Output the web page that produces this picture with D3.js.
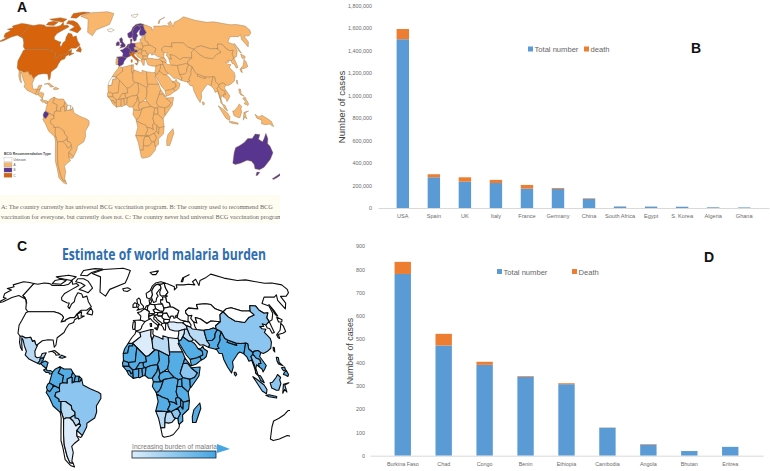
<!doctype html>
<html lang="en">
<head>
<meta charset="UTF-8">
<title>BCG, malaria and COVID-19 cases</title>
<style>
  html, body { margin: 0; padding: 0; background: #fff; }
  svg { display: block; font-family: "Liberation Sans", Arial, sans-serif; }
  .tick text { fill: #6b6b6b; }
  .panel { font-weight: 700; fill: #111; font-size: 14px; }
</style>
</head>
<body>
<svg id="fig" width="770" height="471" viewBox="0 0 770 471"></svg>
<script src="https://cdn.jsdelivr.net/npm/d3@7"></script>
<script>
// chart B
const casesCountries = ["USA", "Spain", "UK", "Italy", "France", "Germany", "China", "South Africa", "Egypt", "S. Korea", "Algeria", "Ghana"];
const casesTotal = [1500000, 273000, 234000, 222000, 172000, 170000, 82000, 13000, 12000, 11000, 6000, 5000];
const casesDeath = [91000, 27000, 39000, 28000, 33000, 8000, 4600, 1000, 1000, 500, 600, 100];
const casesTicks = [0, 200000, 400000, 600000, 800000, 1000000, 1200000, 1400000, 1600000, 1800000];

// chart D
const malariaCountries = ["Burkina Faso", "Chad", "Congo", "Benin", "Ethiopia", "Cambodia", "Angola", "Bhutan", "Eritrea"];
const malariaTotal = [780, 473, 390, 339, 307, 120, 48, 20, 38];
const malariaDeath = [52, 50, 13, 3, 4, 1, 2, 0, 0];
const malariaTicks = [0, 100, 200, 300, 400, 500, 600, 700, 800, 900];

// country outlines, rough lon,lat rings
const shapes = {
  canada: "-141,69.6 -135,69 -128,70 -120,69.5 -115,68 -108,68 -100,68 -95,69 -94,72 -90,69 -85,69.5 -81,68 -87,65 -93,62 -94,59 -92,57 -85,55.3 -82,55 -82,52.5 -79.5,51.2 -79,54.5 -77,56 -78,59 -77.5,62.5 -72,61.5 -69,59 -65,60 -61,56 -56,52.5 -60,50 -66,50 -70,47 -65,49 -64.5,46 -61,46 -66,44 -67,45 -69,47.3 -71,45 -75,45 -79,43.5 -79,42.8 -83,42 -82.5,45 -84.5,46.5 -89,48 -95,49 -123,49 -127,51 -130,54.5 -133,57 -137,59 -141,60.3",
  baffin: "-62,66 -65,62.5 -72,64 -78,65 -73,68 -80,70 -88,71 -88,73.5 -80,73.5 -72,71.5 -67,69",
  victoria: "-105,69 -117,69.5 -117,72 -110,73 -102,72",
  ellesmere: "-62,82.5 -75,83 -90,81 -88,76.5 -78,76 -75,79",
  banks: "-95,72 -105,73 -115,74 -120,75 -105,76.5 -92,75",
  newfoundland: "-59,47.7 -53,46.8 -53,49 -56,51.5",
  alaska: "-141,69.6 -141,60.3 -137,59 -133,57 -130,55 -135,58 -146,60.5 -152,59 -158,56 -165,54.5 -158,58.5 -162,59 -165,62 -161,64.5 -168,65.6 -162,67 -166,68.5 -157,71 -148,70.3",
  usa: "-124.5,48.3 -123,49 -95,49 -89,48 -84.5,46.5 -82.5,45 -83,42 -79,42.8 -79,43.5 -75,45 -71,45 -69,47.3 -67,45 -70,43.5 -70,41.7 -74,40.5 -75.5,37.5 -76,35 -81,31.5 -80,26.5 -81,25.2 -82.8,28 -84,30 -89,30.2 -94,29.5 -97.3,27 -97.2,25.9 -99.5,27.5 -101.5,29.7 -103,29 -106.5,31.8 -111,31.3 -114.8,32.5 -117,32.5 -120.5,34.5 -124,40 -124.3,43",
  mexico: "-117,32.5 -114.8,32.5 -111,31.3 -106.5,31.8 -103,29 -101.5,29.7 -99.5,27.5 -97.2,25.9 -97.8,22.5 -96,19 -94,18.2 -91,18.7 -90.5,21 -87,21.5 -88,18.5 -89,17.9 -91,17.8 -91,16 -92.2,14.5 -96,15.7 -101,17.3 -105.5,20 -105.5,22.5 -109,26 -112.5,30 -114.7,31.5 -112,27 -109.5,23 -112,25 -115,28.5",
  guatemala: "-92.2,14.5 -91,16 -91,17.8 -89,17.9 -88,18.5 -88.2,16 -89,15.9 -88.5,15 -89.4,14.3 -90.2,13.8",
  honduras: "-89.4,14.3 -88.5,15 -86,16 -83.2,15 -83.6,11 -87.5,13",
  panama: "-83.6,11 -82.5,9.5 -79.5,9.6 -77.4,8.7 -77.9,7.3 -80,7.3 -80.5,8.3 -83,8.3 -85.7,10",
  cuba: "-85,22 -80,23 -74.2,20.2 -77.7,19.9 -78.5,21 -82,22.5",
  hispaniola: "-74.4,18.4 -72.5,19.9 -68.4,18.6 -71.5,17.8",
  colombia: "-77.4,8.7 -75.5,10.7 -72,12.2 -71.3,11 -72.5,8 -67.5,6.2 -67.8,2 -67,1.5 -69.5,1 -70,-1 -69.9,-4.3 -70,-2.3 -75.2,-0.1 -78.8,1.4 -77.9,7.3",
  venezuela: "-72,12.2 -68,10.7 -62,10.7 -60,8.5 -60.8,5.2 -64,4 -63.5,1.2 -67,1.5 -67.8,2 -67.5,6.2 -72.5,8 -71.3,11",
  guyana: "-60,8.5 -57.2,6 -57.8,2 -59.5,1.3 -60,5 -60.8,5.2",
  suriname: "-57.2,6 -54,5.8 -54,2.3 -57.8,2",
  fguiana: "-54,5.8 -51.7,4.2 -53,2.2 -54,2.3",
  ecuador: "-78.8,1.4 -75.2,-0.1 -75.5,-1.5 -78.3,-4.5 -80.3,-3.4 -81,-1.5 -80,0.5",
  peru: "-80.3,-3.4 -78.3,-4.5 -75.5,-1.5 -75.2,-0.1 -70,-2.3 -69.9,-4.3 -73,-5 -74,-7.5 -70.6,-9.5 -70.6,-11 -69,-11 -69.5,-16 -69.5,-17.5 -70.4,-18.3 -76,-14 -79,-8 -81.3,-5",
  brazil: "-51.7,4.2 -50,0 -44,-2.5 -37,-4.8 -35,-6 -35,-9 -39,-14 -39,-18 -41,-22 -48,-25.5 -48.6,-28 -53.4,-33.7 -57.6,-30.2 -53.8,-27 -54.6,-25.5 -54.3,-24 -55.5,-22.3 -58,-22 -58,-20 -57.8,-18 -60.2,-16.3 -60.5,-13.8 -65.3,-11 -69,-11 -70.6,-11 -70.6,-9.5 -74,-7.5 -73,-5 -69.9,-4.3 -70,-1 -69.5,1 -67,1.5 -63.5,1.2 -64,4 -60.8,5.2 -60,5 -59.5,1.3 -57.8,2 -54,2.3 -53,2.2",
  bolivia: "-69,-11 -65.3,-11 -60.5,-13.8 -60.2,-16.3 -57.8,-18 -58,-20 -62.5,-22 -66,-22 -68,-22.8 -69.5,-17.5 -69.5,-16",
  paraguay: "-58,-20 -58,-22 -55.5,-22.3 -54.3,-24 -54.6,-25.5 -58,-27.3 -60,-24 -62.5,-22",
  chile: "-70.4,-18.3 -69.5,-17.5 -68,-22.8 -70,-33 -71.5,-40 -72,-48 -71.5,-52 -68.5,-52.5 -68.5,-55 -72,-54 -75,-50 -73.5,-42 -73.5,-37 -71.5,-30 -70,-22",
  argentina: "-68,-22.8 -66,-22 -62.5,-22 -60,-24 -58,-27.3 -54.6,-25.5 -53.8,-27 -57.6,-30.2 -58.3,-34 -57,-36.5 -62,-39 -65,-41 -65,-45 -69,-51 -68.5,-52.5 -71.5,-52 -72,-48 -71.5,-40 -70,-33",
  uruguay: "-57.6,-30.2 -53.4,-33.7 -55,-35 -58.3,-34",
  greenland: "-73,78 -60,82 -30,83.5 -18,81 -20,74 -22,70 -40,65 -43,60 -51,63 -54,69 -58,75",
  iceland: "-24,65.5 -18,66.3 -14,65 -18,63.4 -22.5,64",
  morocco: "-5.9,35.8 -2,35 -1.2,32.2 -8.7,28 -13,27.7 -9.8,31.5 -6.8,34",
  wsahara: "-13,27.7 -8.7,27.7 -8.7,26 -12,26 -13,21.3 -17,21 -16,24",
  algeria: "-2,35 9,37 8.5,33 9.5,30 10,24.5 12,23.5 6,19.5 3.3,19 -4.8,25 -8.7,27.7 -8.7,28 -1.2,32.2",
  tunisia: "9,37 11,37 10.5,34 11.5,33 9.5,30 8.5,33",
  libya: "11.5,33 15.5,32 20,30.5 20,32.8 25,31.7 25,20 24,19.5 15,23 12,23.5 10,24.5 9.5,30",
  egypt: "25,31.7 32,31 34.3,31.2 35,28 33.7,27.7 37,22 25,22",
  mauritania: "-17,21 -13,21.3 -12,26 -8.7,26 -8.7,27.7 -4.8,25 -6,15.5 -12,15 -16.5,16.2",
  mali: "-4.8,25 3.3,19 4,15.5 1,15 -2,14.8 -5.5,10.5 -8,10 -11.5,12.5 -12,15 -6,15.5",
  niger: "3.3,19 6,19.5 12,23.5 15,23 15.5,16.5 13.5,13.5 8,13 3.6,11.7 2.3,11.5 1,13 1,15 4,15.5",
  chad: "15,23 24,19.5 24,15.5 22.5,11 19,9 15.5,7.5 14,12.5 13.5,13.5 15.5,16.5",
  sudan: "24,19.5 25,20 25,22 37,22 38.5,18 36.4,14.3 34.3,10.5 33,7.8 35,5 34,4 31,3.7 27.5,5 23,9 22.5,11 24,15.5",
  senegal: "-16.5,16.2 -12,15 -11.5,12.5 -16.7,12.4 -17.3,14.7",
  guinea: "-16.7,12.4 -11.5,12.5 -8,10 -7.8,8.5 -9.5,7.4 -10.8,9.5 -13.3,9.5 -15,11",
  liberia: "-13.3,9.5 -10.8,9.5 -9.5,7.4 -7.8,8.5 -7.5,4.4 -11.5,6.9",
  ivory: "-8,10 -5.5,10.5 -2.8,11 -2.8,9.5 -3,5.2 -7.5,4.4 -7.8,8.5",
  burkina: "-5.5,10.5 -2,14.8 1,15 1,13 2.3,11.5 0,11 -2.8,11",
  ghana: "-2.8,11 0,11 0.5,6 -2,4.8 -3,5.2 -2.8,9.5",
  benin: "0,11 2.3,11.5 3.6,11.7 2.7,6.3 0.5,6",
  nigeria: "3.6,11.7 8,13 13.5,13.5 14,12.5 13,9 8.8,4.6 5.5,4.5 2.7,6.3",
  cameroon: "8.8,4.6 13,9 14,12.5 15.5,7.5 14.5,5 16,2 9.7,2.2",
  car: "15.5,7.5 19,9 23,9 27.5,5 22,4.2 18.5,3.6 16,2 14.5,5",
  gabon: "9.7,2.2 16,2 18.5,3.6 16,-2 14,-4.5 12,-5 8.8,-1",
  drc: "18.5,3.6 22,4.2 27.5,5 31,3.7 29.7,-1 29,-4.5 30.5,-8.2 28.5,-9 29.8,-13 27.2,-11.7 23,-11 22,-9.5 17,-8 12.3,-6 12,-5 14,-4.5 16,-2",
  uganda: "31,3.7 34,4 34,0 33.9,-1 29.7,-1",
  kenya: "34,4 35,5 41,3.9 41,-1.7 39.2,-4.7 33.9,-1 34,0",
  eritrea: "36.4,14.3 38.5,18 43,12.7 42,12.5 40,14.5",
  ethiopia: "36.4,14.3 40,14.5 42,12.5 43,11.5 48,8 45,5 41,3.9 35,5 33,7.8 34.3,10.5",
  somalia: "43,11.5 51,12 49,6 41.5,-1.7 41,-1.7 41,3.9 45,5 48,8",
  tanzania: "33.9,-1 39.2,-4.7 40.4,-10.4 35,-11.5 33,-9.5 30.5,-8.2 29,-4.5 29.7,-1",
  angola: "12.3,-6 17,-8 22,-9.5 23,-11 24,-13 22,-16.5 25,-17.8 11.8,-17.4 13.8,-11",
  zambia: "23,-11 27.2,-11.7 29.8,-13 28.5,-9 30.5,-8.2 33,-9.5 33,-14 30.5,-15.5 25,-17.8 22,-16.5 24,-13",
  mozambique: "40.4,-10.4 35,-11.5 35,-16 33,-14 30.5,-15.5 33,-19 31,-22.3 32,-26 32.8,-26 35.5,-24 35,-20 40,-16",
  malawi: "33,-9.5 35,-11.5 35,-16 33,-14",
  zimbabwe: "25,-17.8 30.5,-15.5 33,-19 31,-22.3 29,-22.2 27.5,-21.5",
  namibia: "11.8,-17.4 25,-17.8 21,-18.3 20,-22 20,-28.5 16.5,-28.6 14.5,-22.5",
  botswana: "21,-18.3 25,-17.8 27.5,-21.5 29,-22.2 26,-25 23,-25.5 20,-25 20,-22",
  southafrica: "16.5,-28.6 20,-28.5 20,-25 23,-25.5 26,-25 29,-22.2 31,-22.3 32,-26 32.8,-26 32.5,-28.5 28,-33 25,-34 20,-34.8 18.3,-34",
  madagascar: "49.3,-12 50.4,-15.5 47,-25 44,-25 43.5,-21 44.5,-16.5",
  spain: "-9,43 -1.8,43.4 3.2,42.4 0,39.5 -0.7,37.7 -2,36.8 -5.4,36 -7.4,37.2 -7,38 -7,42",
  portugal: "-9,42 -7,42 -7,38 -7.4,37.2 -8.9,37 -9.5,38.8",
  france: "-1.8,43.4 3.2,42.4 7.5,43.8 7,46 7.6,47.6 8,49 6,50 2.5,51 -1.5,49 -4.8,48.4 -1.2,46",
  uk: "-5.5,50 1.3,51.2 1.7,52.7 -1.5,55 -2,57.5 -3.5,58.6 -6,57.5 -5,54.7 -3,53.5 -5,52 -3.5,51.3",
  ireland: "-10,52 -6,52.2 -5.8,54.6 -8,55.3 -10,54",
  benelux: "2.5,51 6,50 6,51.8 7,53.3 5,53.2 3.5,51.5",
  germany: "6,50 8,49 7.6,47.6 13,47.6 13.7,48.7 12.2,50.3 15,51 14.3,53.9 10.8,54 9.5,54.8 8.7,54 7,53.3 6,51.8",
  alpine: "7,46 8,46 12,47 13.7,46.5 16.5,47 17,48.5 13.7,48.7 13,47.6 7.6,47.6",
  italy: "7.5,43.8 7,46 8,46 12,47 13.7,46.5 12.3,45 12.4,44 16,41.8 18.4,40 16.8,40.5 16,38 15.6,40 12.3,41.8 10.5,43 8.8,44.4",
  sicily: "12.5,38 15.5,38.2 15,36.7",
  sardinia: "8.2,41 9.7,41 9.6,39 8.5,39",
  poland: "14.3,53.9 19,54.4 23,54.3 24,51.5 24,50.5 22.5,49.1 19,49.5 15,51",
  czech: "12.2,50.3 15,51 19,49.5 22.5,49.1 22,48.4 17,48.5 13.7,48.7",
  hungary: "17,48.5 22,48.4 22.9,48 21,46 17,46 16.5,47",
  romania: "22.9,48 26.7,48.2 28.2,45.5 29.7,45 28.6,43.7 23,43.8 21,45 21,46",
  balkans: "13.7,46.5 16.5,47 17,46 21,46 21,45 23,43.8 22.5,42.5 23,41.3 20.5,41 19.3,41.9 16,43.5 14.8,45 13.6,45.5",
  bulgaria: "23,43.8 28.6,43.7 27.8,42 26.2,41.3 23,41.3 22.5,42.5",
  greece: "20.5,41 23,41.3 26.2,41.3 24,40.7 23.5,38 23,36.5 21.7,36.8 21,38.5 19.5,40",
  norway: "5,62 5.5,59 8,58 11,59 12.5,61 12,64 15,67 18,68.5 20.5,69 25,69 29,69.8 30.5,70 25,71 18,70 13,67.5 10,64",
  sweden: "11,59 13,55.5 16,56.2 17,58.6 19,60 17.5,62 21,64.5 24,66 23.5,68 20.5,69 18,68.5 15,67 12,64 12.5,61",
  finland: "24,66 21.5,63 21.5,61 23,60 28,60.5 31.5,62.8 29.5,66 29,69.8 25,69 20.5,69 23.5,68",
  denmark: "8.7,54 9.5,54.8 10.8,56 10.5,57.6 8.2,57",
  belarus: "21,55 21.5,57.5 24,57.3 24,59.4 28,59.5 28,56 31,55 31.5,52.5 24,51.5 23,54.3",
  ukraine: "24,51.5 31.5,52.5 34,52.3 40,49.7 38,47 35,46 36.5,45.2 33.5,44.5 33,46 30.5,46 29.7,45 28.2,45.5 26.7,48.2 22.9,48 22,48.4 22.5,49.1 24,50.5",
  russia: "28,59.5 30,60 28,60.5 31.5,62.8 29.5,66 29,69.8 33,69.4 41,67 40,64.6 44,66.5 44,68.5 54,68.5 60,69 68,68.5 67,71 73,73 73,68 78,72 87,74 100,77.5 113,74 128,72 140,72.5 160,69.7 170,70 180,68.5 180,65 177,62.5 170,60 163,59.8 162,55 156.7,51 155.7,57 160,61 155,59.3 143,59.3 135,54.7 141,53 140,48 135,43.5 130.7,42.3 131,45 135,48.3 130.7,48 127,50 126,53 120,53.3 117,49.7 108,49.5 98,51.8 92,51 87.5,49 80,51 77,54 71,54.5 61,54 61,51 51,51.5 47,49.5 47,48 49,46.3 47.5,43 48.5,41.8 44,42.6 40,43.4 37,45 38,47 40,49.7 34,52.3 31.5,52.5 31,55 28,56",
  kazakhstan: "47,49.5 51,51.5 61,51 61,54 71,54.5 77,54 80,51 87.5,49 83,47 80.5,42.2 71,42.7 66,41 61,44 56,45 56,41.3 53,42 51,44.5 53,46.5 49,46.3 47,48",
  turkey: "26.2,41.3 28,42 33,42 36,41.5 41.5,41.5 44.5,40 44.8,37.2 42,37.2 36,36 32,36 27.4,37 26.2,39.5",
  caucasus: "41.5,41.5 44,42.6 48.5,41.8 49.5,40 48.5,38.5 44.5,39.7",
  iran: "44.5,39.7 48.5,38.5 50,37.3 54,37 61,36.5 61,31.5 63,27 61.6,25 57,26.8 54,26.5 50,30 48.5,30.2 46,33 44.8,37.2",
  iraq: "44.8,37.2 46,33 48.5,30.2 46.5,29.1 44,29.2 39,32.2 41,34.5 42,37.2",
  syria: "36,36 42,37.2 41,34.5 39,32.2 37,30 35,29.5 34.3,31.2 35.7,34.5",
  saudi: "34.6,28 35,29.5 37,30 39,32.2 44,29.2 46.5,29.1 48.5,28 50,26.5 51.5,24.3 55,22.7 55,20 52,19 48.9,18 45,17.4 43,17 40,20 37,24.5",
  yemen: "43,17 45,17.4 48.9,18 52,19 53,16.7 48,14 43.5,12.8",
  oman: "51.5,24.3 54,24.2 56.4,26 56.7,24.3 59.8,22.5 57.8,19 55,17.3 53,16.7 52,19 55,20 55,22.7",
  stans: "53,42 56,41.3 56,45 61,44 66,41 71,42.7 80.5,42.2 74,39.5 73.5,37.3 71,38 67,37.2 61,36.5 54,37 53,39",
  afghanistan: "61,36.5 67,37.2 71,38 74.5,37 71,34.3 69.5,31.5 66.5,29.8 61,29.5 61,31.5",
  pakistan: "61,29.5 66.5,29.8 69.5,31.5 71,34.3 74.5,37 77.5,35.5 74.5,32 74,30 70,26 71,24.5 67.5,23.8 61.6,25 63,27",
  india: "74.5,32 77.5,35.5 78.8,31.2 81,30 80,28.5 88,26.4 88,27.9 92,27.7 97,28 94,23.5 92.3,20.8 89,22 87,21 80.3,15.5 80,12 77.5,8 75,12 73,17 72.7,21 70,21 68.5,23.5 67.5,23.8 71,24.5 70,26 74,30",
  nepal: "81,30 80,28.5 88,26.4 88,27.9",
  china: "74,39.5 80.5,42.2 83,47 87.5,49 91,45.5 96,42.7 105,41.7 112,45 119,46.8 116,49.7 117,49.7 120,53.3 126,53 127,50 130.7,48 135,48.3 131,45 130.7,42.3 125,40 122,40.8 122,39 118,39 119,37.5 122.6,37.2 119.3,35 122,31 121.5,28.5 118.5,24.5 114,22.3 110,21 108,21.6 106,23 102,22.4 101,21.5 98,24 98.7,27.5 97,28 92,27.7 88,27.9 81,30 78.8,31.2 77.5,35.5 74.5,37 73.5,37.3",
  mongolia: "87.5,49 92,51 98,51.8 108,49.5 117,49.7 116,49.7 119,46.8 112,45 105,41.7 96,42.7 91,45.5",
  korea: "125,40 130.7,42.3 129.4,37 129,35 126.5,34.5 126.7,37.7 124.7,38",
  honshu: "130.9,34 136,36.5 140,40 141.4,41.3 142,39.5 140.7,35.7 136.9,34.5 132.5,33.8",
  hokkaido: "140,42 141.8,45.4 145.3,43.5 143.3,42",
  kyushu: "130,33.5 131.8,33.4 131,31 130,31.5",
  myanmar: "92.3,20.8 94,23.5 97,28 98.7,27.5 98,24 101,21.5 100,20.3 98,19 99,13 98.7,10 97.7,16.5 95,15.8 94.3,18.5",
  indochina: "102,22.4 106,23 108,21.6 105.8,19 109.3,13 107,10.5 105,8.7 104.8,10.5 102.6,12.2 103,14.3 105,14.3 105,17 102,18 101,19.5 100,20.3 101,21.5",
  thailand: "98,19 100,20.3 101,19.5 102,18 105,17 105,14.3 103,14.3 102.6,12.2 100.9,13.5 99.5,11 100.1,6.5 99.8,6.5 98.3,8 98.7,10 99,13",
  malaya: "100.1,6.5 102,6.2 103.5,3 104,1.5 101.3,3",
  sumatra: "95.3,5.6 98,4 103.5,0 106,-3 105.7,-5.8 102,-4 98,1",
  java: "105.2,-6.8 108,-6.5 114.5,-7.7 114.5,-8.7 108,-7.8",
  borneo: "109,1.5 111,1.8 115,5 117,7 119,5 117.7,3.5 118,1 116,-3.5 114,-3.5 110,-2",
  sulawesi: "119.5,-5.5 120,0.5 125,1.5 121,0 123,-4.7 121,-3",
  newguinea: "131,-1 135,-3 138,-1.7 145,-5 147.8,-6.5 150.5,-10.5 146,-8.5 142,-9 138,-8.3 138,-5.5 133,-4",
  luzon: "120.5,18.5 122.3,18.3 121.5,15 124,12.8 120.5,14 120,16",
  visayas: "122,11.5 125,12 125,10 123,9.5",
  mindanao: "122,7 123.5,8.5 125.5,9.8 126.5,7 125.4,5.7 124,6.5",
  taiwan: "120.2,23 121,25.2 122,25 120.9,22",
  srilanka: "79.9,8.5 81.2,8.5 81.8,7 80.5,6 79.8,7",
  australia: "114,-22 113.5,-26 115,-34 118,-35 123,-34 129,-31.7 134,-32.5 138,-35 141,-38.3 146.5,-39 150,-37 153,-31 153.5,-26 149,-21 146,-19 145.3,-15 142.7,-11 141.5,-15 140.5,-17.5 136,-15.5 136.8,-12 132,-11.5 129.5,-15 125,-15 122,-18 118,-20.3",
  tasmania: "144.8,-40.8 148.3,-41 147.5,-43.5 146,-43.5",
  nznorth: "173,-34.5 175.5,-37 178.5,-37.7 177,-39.5 175.2,-41.5 174,-39.3",
  nzsouth: "172.7,-40.5 174,-41.7 171,-45 168.5,-46.6 166.5,-46 170,-43",
  svalbard: "12,79 25,80.5 20,77 15,77",
  novaya: "52,71 56,74 68,77 58,74.5 54,71",
  sakhalin: "142,54 143,50 143.5,46 142,47"
};

// BCG type by country (everything else is type A)
const bcgTypeB = ["ecuador", "spain", "france", "uk", "ireland", "germany", "alpine", "sweden", "finland", "norway", "benelux", "australia", "tasmania", "nznorth", "nzsouth", "denmark"];
const bcgTypeC = ["canada", "baffin", "victoria", "ellesmere", "banks", "newfoundland", "alaska", "usa", "italy", "sicily", "sardinia"];
const bcgUnknown = ["iceland", "svalbard", "wsahara", "fguiana", "suriname"];
const bcgLegend = ["Unknown", "A", "B", "C"];
const bcgColors = ["#ffffff", "#f9b76e", "#59368f", "#d8640e"];

// malaria burden class: 1 light ... 4 strong, missing = no malaria
const malariaClass = {
  argentina: 1, egypt: 1, algeria: 1, turkey: 1, paraguay: 2, iraq: 2, iran: 2, syria: 1, libya: 2, botswana: 2, namibia: 2, mexico: 2, tunisia: 0,
  brazil: 3, china: 3, ethiopia: 3, bolivia: 2, zimbabwe: 3, thailand: 3, borneo: 3, sumatra: 3, sulawesi: 3, java: 4, luzon: 4, visayas: 4, mindanao: 4,
  colombia: 4, venezuela: 4, guyana: 4, suriname: 4, fguiana: 4, ecuador: 4, peru: 4, guatemala: 4, honduras: 4, panama: 4, hispaniola: 3,
  mauritania: 4, wsahara: 4, mali: 4, niger: 4, chad: 4, sudan: 4, senegal: 4, guinea: 4, liberia: 4, ivory: 4, burkina: 4, ghana: 4, benin: 4, nigeria: 4, cameroon: 4,
  car: 4, gabon: 4, drc: 4, uganda: 4, kenya: 4, eritrea: 4, somalia: 4, tanzania: 4, angola: 4, zambia: 4, mozambique: 4, malawi: 4, madagascar: 4,
  saudi: 4, yemen: 4, oman: 4, afghanistan: 4, pakistan: 4, india: 4, nepal: 4, myanmar: 4, indochina: 4, malaya: 4, newguinea: 4, srilanka: 4
};
const malariaColors = ["#ffffff", "#dcecfb", "#b9daf5", "#8cc5f0", "#55ade5"];

// Robinson table, every 5 degrees
const robinsonLat = d3.range(0, 95, 5);
const robinsonLen = [1, .9986, .9954, .99, .9822, .973, .96, .9427, .9216, .8962, .8679, .835, .7986, .7597, .7186, .6732, .6213, .5722, .5322];
const robinsonDrop = [0, .062, .124, .186, .248, .31, .372, .434, .4958, .5571, .6176, .6769, .7346, .7903, .8435, .8936, .9394, .9761, 1];
const lenScale = d3.scaleLinear().domain(robinsonLat).range(robinsonLen);
const dropScale = d3.scaleLinear().domain(robinsonLat).range(robinsonDrop);

// the source maps pull the north in more than Robinson and push Australia down
function robinson(cx, cy, k, h, squeeze, ozDrop) {
  const north = d3.scaleLinear().domain([0, 45]).range([1, 1 - squeeze]).clamp(true);
  return d3.geoTransform({
    point(lon, lat) {
      const a = Math.abs(lat);
      const w = lenScale(a) * (lat > 0 ? north(a) : 1);
      const shift = lon > 112 && lat < -10.5 ? ozDrop : 0;
      this.stream.point(cx + k * lon * w, cy - Math.sign(lat) * h * dropScale(a) + shift);
    }
  });
}

function ring(str) {
  const pts = str.split(" ").map(p => p.split(",").map(Number));
  pts.push(pts[0]); // geoPath wants rings closed
  return { type: "Polygon", coordinates: [pts] };
}

const svg = d3.select("#fig");
const defs = svg.append("defs");

// the source maps are soft scans
defs.append("filter").attr("id", "soft")
  .append("feGaussianBlur").attr("stdDeviation", 0.3);

function drawMap(id, box, proj, fillOf, stroke, strokeW) {
  defs.append("clipPath").attr("id", id)
    .append("rect").attr("x", box[0]).attr("y", box[1]).attr("width", box[2]).attr("height", box[3]);
  const path = d3.geoPath(proj);
  svg.append("g").attr("clip-path", `url(#${id})`)
    .append("g").attr("filter", "url(#soft)")
    .selectAll("path")
    .data(Object.keys(shapes))
    .join("path")
    .attr("d", k => path(ring(shapes[k])))
    .attr("fill", fillOf)
    .attr("stroke", stroke)
    .attr("stroke-width", strokeW)
    .attr("stroke-linejoin", "round");
}

// panel A
drawMap("clipA", [0, 0, 280, 190], robinson(124, 113, 1.0, 105, 0.08, 6), k => {
  if (bcgTypeB.includes(k)) return bcgColors[2];
  if (bcgTypeC.includes(k)) return bcgColors[3];
  if (bcgUnknown.includes(k)) return bcgColors[0];
  return bcgColors[1];
}, "#8d6f45", 0.4);

const legA = svg.append("g").attr("transform", "translate(4,155)");
legA.append("text").attr("font-size", 3.5).attr("font-weight", 700).attr("fill", "#444").text("BCG Recommendation Type");
legA.selectAll("rect").data(bcgLegend).join("rect")
  .attr("x", 0).attr("y", (d, i) => 2.5 + i * 5.2)
  .attr("width", 8).attr("height", 4.2)
  .attr("fill", (d, i) => bcgColors[i]).attr("stroke", "#999").attr("stroke-width", 0.3);
legA.selectAll("text.l").data(bcgLegend).join("text").attr("class", "l")
  .attr("x", 9.5).attr("y", (d, i) => 6 + i * 5.2)
  .attr("font-size", 3).attr("fill", "#555").text(d => d);

svg.append("rect").attr("x", 0).attr("y", 195).attr("width", 280).attr("height", 28).attr("fill", "#fffdf2");
const capLines = [
  "A: The country currently has universal BCG vaccination program. B: The country used to recommend BCG",
  "vaccination for everyone, but currently does not. C: The country never had universal BCG vaccination program"
];
svg.append("g").attr("clip-path", "url(#clipA2)")
  .selectAll("text").data(capLines).join("text")
  .attr("x", 1).attr("y", (d, i) => 209 + i * 10)
  .attr("font-family", "'Liberation Serif', serif")
  .attr("font-size", 6.3).attr("fill", "#666")
  .text(d => d);
defs.append("clipPath").attr("id", "clipA2").append("rect").attr("width", 280).attr("height", 471);

// panel C
drawMap("clipC", [0, 262, 290, 209], robinson(142, 385, 1.18, 121, 0.1, 3), k => malariaColors[malariaClass[k] || 0], "#0c0c0c", 1.1);

svg.append("text").attr("x", 62).attr("y", 259.5)
  .attr("font-family", "'Open Sans', sans-serif").attr("font-weight", 700)
  .attr("font-size", 16).attr("fill", "#2e6db0")
  .attr("textLength", 204).attr("lengthAdjust", "spacingAndGlyphs")
  .text("Estimate of world malaria burden");

const grad = defs.append("linearGradient").attr("id", "burden");
grad.append("stop").attr("offset", 0).attr("stop-color", "#dcecfb");
grad.append("stop").attr("offset", 1).attr("stop-color", "#45a6e2");
svg.append("rect").attr("x", 132).attr("y", 451).attr("width", 84).attr("height", 7)
  .attr("fill", "url(#burden)").attr("stroke", "#123").attr("stroke-width", 0.8);
svg.append("path").attr("d", "M217,444 L230,449 L217,453 Z").attr("fill", "#45a6e2");
svg.append("text").attr("x", 132).attr("y", 449).attr("font-size", 6.6).attr("fill", "#777")
  .attr("textLength", 85).text("Increasing burden of malaria");

// stacked bar panel, same Excel look for B and D
function stackedBars(o) {
  const x = d3.scaleBand().domain(o.cats).range(o.xRange).padding(0.6);
  const y = d3.scaleLinear().domain(d3.extent(o.ticks)).range(o.yRange);
  const g = svg.append("g");

  const rows = o.cats.map((c, i) => ({ cat: c, total: o.total[i], death: o.death[i] }));
  const stack = d3.stack().keys(["total", "death"])(rows);
  const colors = ["#5b9bd5", "#ed7d31"];

  g.selectAll("g.series").data(stack).join("g").attr("class", "series")
    .attr("fill", (d, i) => colors[i])
    .selectAll("rect").data(d => d).join("rect")
    .attr("x", d => x(d.data.cat))
    .attr("y", d => y(d[1]))
    .attr("width", x.bandwidth())
    .attr("height", d => y(d[0]) - y(d[1]));

  const ax = g.append("g").attr("transform", `translate(0,${o.yRange[0]})`)
    .call(d3.axisBottom(x).tickSize(0).tickPadding(6));
  ax.select(".domain").attr("stroke", "#d9d9d9");
  ax.selectAll("text").attr("font-size", o.catFont);

  const ay = g.append("g").attr("transform", `translate(${o.yAxisX},0)`)
    .call(d3.axisLeft(y).tickValues(o.ticks).tickFormat(d3.format(",")).tickSize(0).tickPadding(0));
  ay.select(".domain").remove();
  ay.selectAll("text").attr("font-size", o.tickFont);

  g.append("text")
    .attr("transform", `translate(${o.titleX},${o.titleY}) rotate(-90)`)
    .attr("text-anchor", "middle").attr("font-size", o.titleFont).attr("fill", "#444")
    .text("Number of cases");

  o.legend.forEach((l, i) => {
    g.append("rect").attr("x", l.x).attr("y", o.legendY - 2.5).attr("width", 5).attr("height", 5).attr("fill", colors[i]);
    g.append("text").attr("x", l.x + 6.5).attr("y", o.legendY + 3).attr("font-size", 7.6).attr("fill", "#666").text(l.label);
  });
}

stackedBars({
  cats: casesCountries, total: casesTotal, death: casesDeath, ticks: casesTicks,
  xRange: [378, 769], yRange: [208, 5.5], yAxisX: 372, catFont: 5.6, tickFont: 5.4,
  titleX: 345, titleY: 107, titleFont: 9.6,
  legendY: 49, legend: [{ x: 528, label: "Total number" }, { x: 584, label: "death" }]
});

stackedBars({
  cats: malariaCountries, total: malariaTotal, death: malariaDeath, ticks: malariaTicks,
  xRange: [370, 763], yRange: [455.7, 246], yAxisX: 365, catFont: 5.4, tickFont: 5.4,
  titleX: 353, titleY: 351, titleFont: 8.8,
  legendY: 271.5, legend: [{ x: 497, label: "Total number" }, { x: 572, label: "Death" }]
});

// panel letters
svg.append("text").attr("class", "panel").attr("x", 17).attr("y", 12).text("A");
svg.append("text").attr("class", "panel").attr("x", 691).attr("y", 53).text("B");
svg.append("text").attr("class", "panel").attr("x", 17).attr("y", 251).text("C");
svg.append("text").attr("class", "panel").attr("x", 704).attr("y", 262).text("D");
</script>
</body>
</html>
